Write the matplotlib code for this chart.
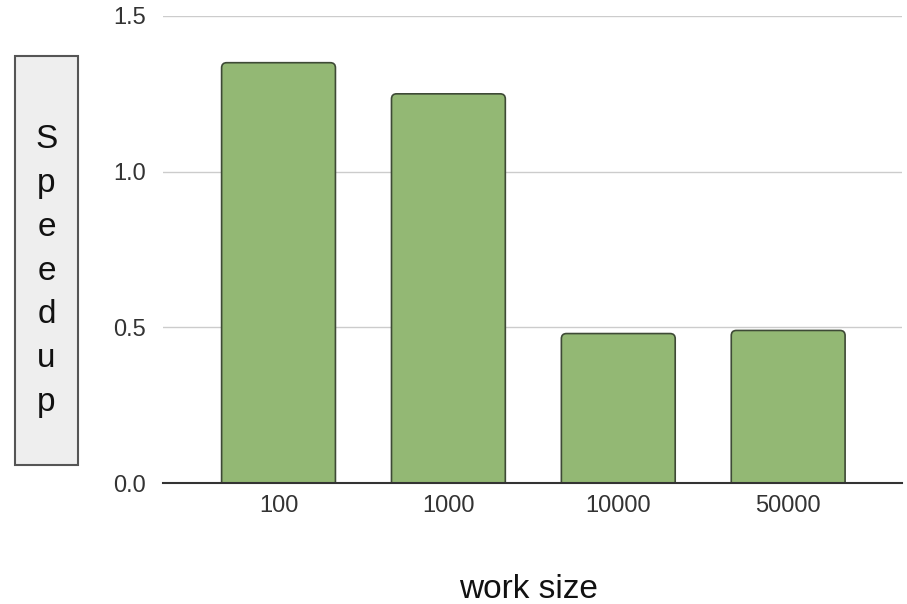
import matplotlib
matplotlib.use("Agg")
import matplotlib.pyplot as plt
from matplotlib.patches import FancyBboxPatch, Rectangle

plt.rcParams["font.family"] = ["Liberation Sans", "DejaVu Sans"]

work_sizes = ["100", "1000", "10000", "50000"]
speedup = [1.35, 1.25, 0.48, 0.49]
y_ticks = [0.0, 0.5, 1.0, 1.5]

BAR_COLOR = "#93b874"
EDGE_COLOR = "#3e4a36"

fig = plt.figure(figsize=(9.07, 6.04), dpi=100)
ax = fig.add_axes([163 / 907, 1 - 483 / 604, (902 - 163) / 907, (483 - 16) / 604])

ax.set_xlim(-0.68, 3.67)
ax.set_ylim(0, 1.5)

width = 0.67
radius = 0.03
for i, v in enumerate(speedup):
    # rounded top corners; the bottom is pushed below zero and clipped
    patch = FancyBboxPatch(
        (i - width / 2, -radius), width, v + radius,
        boxstyle=f"round,pad=0,rounding_size={radius}",
        mutation_aspect=0.55,
        facecolor=BAR_COLOR, edgecolor=EDGE_COLOR, linewidth=1.2, zorder=3,
    )
    ax.add_patch(patch)

ax.set_yticks(y_ticks)
ax.set_yticklabels([f"{t:.1f}" for t in y_ticks])
ax.set_xticks(range(len(work_sizes)))
ax.set_xticklabels(work_sizes)
ax.tick_params(axis="both", length=0, labelsize=17, colors="#333333")
ax.tick_params(axis="y", pad=12)
ax.tick_params(axis="x", pad=9)

ax.grid(axis="y", color="#cccccc", linewidth=1, zorder=0)
ax.set_axisbelow(True)
for side in ["top", "right", "left"]:
    ax.spines[side].set_visible(False)
ax.spines["bottom"].set_color("#333333")
ax.spines["bottom"].set_linewidth(1.5)
ax.spines["bottom"].set_zorder(4)

fig.text(528 / 907, 1 - 589 / 604, "work size", fontsize=24, ha="center", va="center", color="#111111")

# boxed vertical axis title
fig.patches.append(Rectangle((15 / 907, 1 - 465 / 604), 63 / 907, 409 / 604,
                             transform=fig.transFigure, facecolor="#eeeeee",
                             edgecolor="#555555", linewidth=1.5))
fig.text(46.5 / 907, 1 - 271 / 604, "\n".join("Speedup"), fontsize=24,
         ha="center", va="center", linespacing=1.53, color="#111111")

fig.savefig("out.png", dpi=100)
